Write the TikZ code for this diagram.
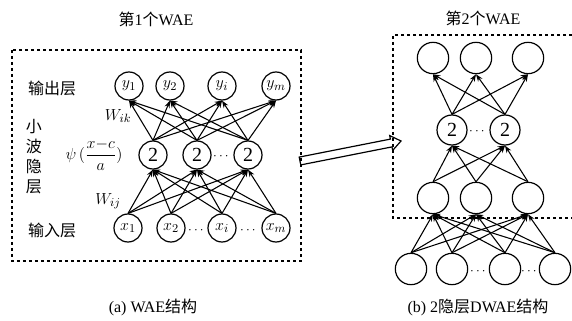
\documentclass[tikz,border=0pt]{standalone}
\usepackage{amsmath,amssymb}
\usepackage{fontspec}
\setmainfont{Liberation Serif}
\newfontfamily\cjk{Noto Sans CJK SC}
\usetikzlibrary{arrows.meta}

\begin{document}
\begin{tikzpicture}[x=0.75pt,y=-0.75pt,
    neuron/.style={draw,circle,line width=0.9pt,inner sep=0pt,minimum size=21pt,
      font=\fontsize{13}{13}\selectfont},
    bigneuron/.style={neuron,minimum size=23.5pt},
    link/.style={line width=0.8pt,-{Stealth[length=5.5pt,width=4pt]}},
    frame/.style={line width=1.1pt,dash pattern=on 2.4pt off 2.1pt},
    txt/.style={font=\fontsize{12}{14}\selectfont},
    two/.style={font=\fontsize{15}{15}\selectfont}]

    \useasboundingbox (0,0) rectangle (572,321);

    % (a) first WAE
    \node[txt] (titleA) at (156,19) {{\cjk 第}1{\cjk 个}WAE};
    \draw[frame] (12,50) rectangle (301,261);

    % output layer
    \node[neuron] (y1) at (129,86) {$y_{1}$};
    \node[neuron] (y2) at (170,86) {$y_{2}$};
    \node[neuron] (yi) at (222,86) {$y_{i}$};
    \node[neuron] (ym) at (276,86) {$y_{m}$};

    % wavelet hidden layer
    \node[neuron,two] (h1) at (153,155) {2};
    \node[neuron,two] (h2) at (197,155) {2};
    \node[neuron,two] (h3) at (248,155) {2};
    \node (hdots) at (222,157) {$\cdots$};

    % input layer
    \node[neuron] (x1) at (128,228) {$x_{1}$};
    \node[neuron] (x2) at (171,228) {$x_{2}$};
    \node[neuron] (xi) at (222,228) {$x_{i}$};
    \node[neuron] (xm) at (276,228) {$x_{m}$};
    \node (xdotsA) at (197,231) {$\cdots$};
    \node (xdotsB) at (249,231) {$\cdots$};

    % layer labels
    \node[txt] (outlabel) at (52,88) {\cjk 输出层};
    \node[font={\cjk\fontsize{12}{15}\selectfont},align=center] (hidlabel) at (34,157)
    {小\\波\\隐\\层};
    \node[txt] (inlabel) at (52,230) {\cjk 输入层};
    \node[font=\fontsize{13}{15}\selectfont] (psi) at (94,155) {$\psi\,(\dfrac{x{-}c}{a})$};
    \node[font=\fontsize{13}{15}\selectfont] (wik) at (118,116) {$W_{ik}$};
    \node[font=\fontsize{13}{15}\selectfont] (wij) at (108,201) {$W_{ij}$};

    % connections
    \foreach \s in {x1,x2,xi,xm}
    \foreach \t in {h1,h2,h3}
    \draw[link] (\s.north) -- (\t.south);
    \foreach \s in {h1,h2,h3}
    \foreach \t in {y1,y2,yi,ym}
    \draw[link] (\s.north) -- (\t.south);

    % hollow arrow between the two parts
    \draw[line width=0.9pt,line join=miter] (299.2,157.1) -- (390.4,139.1) -- (389.7,135.6)
    -- (401,141) -- (392.7,150.4) -- (392.0,146.9) -- (300.8,164.9) -- cycle;

    % (b) second WAE
    \node[txt] (titleB) at (483,18) {{\cjk 第}2{\cjk 个}WAE};
    \draw[frame] (572,35) -| (393,218) -- (572,218);

    % top layer
    \node[bigneuron] (t1) at (433,58) {};
    \node[bigneuron] (t2) at (476,58) {};
    \node[bigneuron] (t3) at (528,58) {};

    % second hidden layer
    \node[neuron,minimum size=22.5pt,two] (g1) at (452,130) {2};
    \node[neuron,minimum size=22.5pt,two] (g2) at (505,130) {2};
    \node (gdots) at (478,132) {$\cdots$};

    % first hidden layer
    \node[bigneuron] (f1) at (433,198) {};
    \node[bigneuron] (f2) at (476,198) {};
    \node[bigneuron] (f3) at (528,198) {};

    % bottom layer
    \node[bigneuron] (b1) at (411,269) {};
    \node[bigneuron] (b2) at (452,269) {};
    \node[bigneuron] (b3) at (505,269) {};
    \node[bigneuron] (b4) at (555,269) {};
    \node (bdotsA) at (479,272) {$\cdots$};
    \node (bdotsB) at (530,272) {$\cdots$};

    \foreach \s in {b1,b2,b3,b4}
    \foreach \t in {f1,f2,f3}
    \draw[link] (\s.north) -- (\t.south);
    \foreach \s in {f1,f2,f3}
    \foreach \t in {g1,g2}
    \draw[link] (\s.north) -- (\t.south);
    \foreach \s in {g1,g2}
    \foreach \t in {t1,t2,t3}
    \draw[link] (\s.north) -- (\t.south);

    % captions
    \node[txt] (capA) at (153,307) {(a) WAE{\cjk 结构}};
    \node[txt] (capB) at (478,307) {(b) 2{\cjk 隐层}DWAE{\cjk 结构}};
\end{tikzpicture}
\end{document}
